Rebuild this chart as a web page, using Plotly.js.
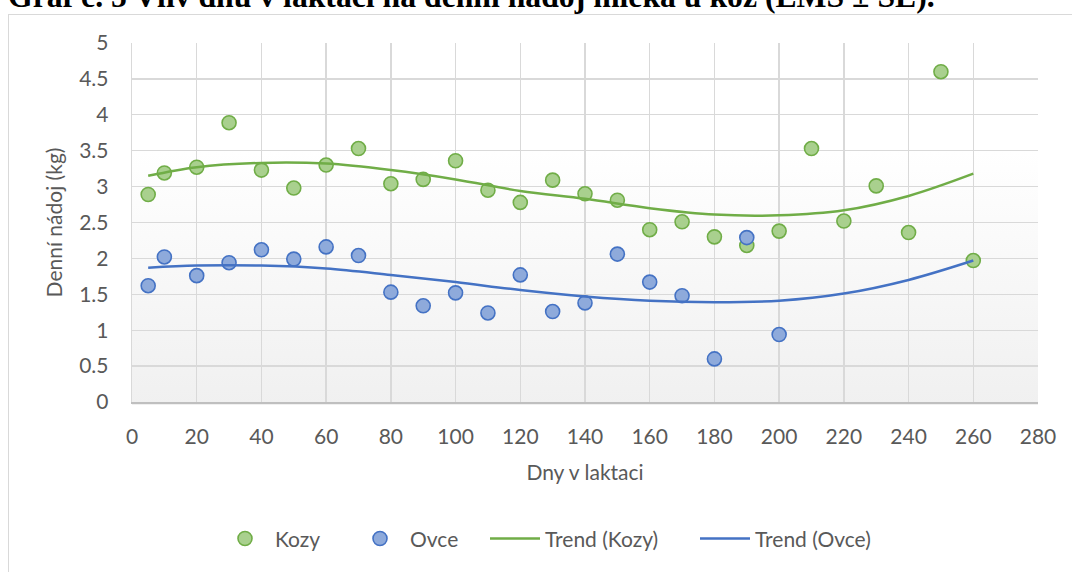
<!DOCTYPE html>
<html>
<head>
<meta charset="utf-8">
<script src="https://cdn.plot.ly/plotly-3.0.1.min.js"></script>
<style>
  html, body { margin:0; padding:0; background:#ffffff; overflow:hidden; }
  #wrap { position:relative; width:1072px; height:572px; overflow:hidden; }
  #frame { position:absolute; left:8px; top:14px; width:1200px; height:700px; border:1px solid #d9d9d9; box-sizing:border-box; }
  #bg { position:absolute; left:132px; top:43px; width:906px; height:362px;
        background:linear-gradient(to bottom, #ffffff 0%, #ffffff 30%, #f0f0f0 100%); }
  #doc-title { position:absolute; left:8px; top:-14px; white-space:nowrap; line-height:1;
        font-family:"Liberation Serif","Times New Roman",serif; font-weight:bold; font-size:28px; color:#000; }
  #chart { position:absolute; left:0; top:0; width:1072px; height:572px; }
</style>
</head>
<body>
<div id="wrap">
  <div id="frame"></div>
  <div id="bg"></div>
  <div id="doc-title"><span id="tt">Graf č. 5 Vliv dnů v laktaci na denní nádoj mléka u koz (EMS ± SE).</span></div>
  <div id="chart"></div>
</div>
<script>
// ---- data ----
const daysKozy = [5,10,20,30,40,50,60,70,80,90,100,110,120,130,140,150,160,170,180,190,200,210,220,230,240,250,260];
const kozy     = [2.89,3.19,3.27,3.89,3.23,2.98,3.30,3.53,3.04,3.10,3.36,2.95,2.78,3.09,2.90,2.81,2.40,2.51,2.30,2.18,2.38,3.53,2.52,3.01,2.36,4.60,1.97];
const daysOvce = [5,10,20,30,40,50,60,70,80,90,100,110,120,130,140,150,160,170,180,190,200];
const ovce     = [1.62,2.02,1.76,1.94,2.12,1.99,2.16,2.04,1.53,1.34,1.52,1.24,1.77,1.26,1.38,2.06,1.67,1.48,0.60,2.29,0.94];
const trendDays  = [5,20,40,60,80,100,120,140,160,180,200,220,240,260];
const trendKozy  = [3.15,3.27,3.33,3.32,3.23,3.10,2.94,2.83,2.70,2.61,2.60,2.67,2.87,3.18];
const trendOvce  = [1.87,1.90,1.90,1.86,1.77,1.67,1.56,1.47,1.41,1.39,1.41,1.51,1.70,1.97];
const xTitle = "Dny v laktaci";
const yTitle = "Denní nádoj (kg)";
const names = ["Kozy","Ovce","Trend (Kozy)","Trend (Ovce)"];

// fit document title width
(function(){
  const sp = document.getElementById('tt');
  const target = 927;
  const w = sp.getBoundingClientRect().width;
  const fs = 28 * target / w;
  const d = document.getElementById('doc-title');
  d.style.fontSize = fs + 'px';
  d.style.top = (8 - 0.8375*fs) + 'px';
})();

const FONT = "Lato, 'Liberation Sans', sans-serif";
const GREEN = "#70ad47", BLUE = "#4472c4";

const traces = [
  { x: daysKozy, y: kozy, name: names[0], type:'scatter', mode:'markers',
    marker:{ size:14, color:'#a9d08e', line:{ color:GREEN, width:1.6 } }, legend:'legend' },
  { x: daysOvce, y: ovce, name: names[1], type:'scatter', mode:'markers',
    marker:{ size:14, color:'#8eaadb', line:{ color:BLUE, width:1.6 } }, legend:'legend' },
  { x: trendDays, y: trendKozy, name: names[2], type:'scatter', mode:'lines',
    line:{ color:GREEN, width:2.5, shape:'spline', smoothing:1 }, legend:'legend2' },
  { x: trendDays, y: trendOvce, name: names[3], type:'scatter', mode:'lines',
    line:{ color:BLUE, width:2.5, shape:'spline', smoothing:1 }, legend:'legend2' }
];

const pw = 906, ph = 362;
function px2x(p){ return (p - 132) / pw; }
function py2y(p){ return (405 - p) / ph; }

const layout = {
  width:1072, height:572,
  margin:{ l:132, r:34, t:43, b:167 },
  paper_bgcolor:'rgba(0,0,0,0)', plot_bgcolor:'rgba(0,0,0,0)',
  font:{ family:FONT, size:21, color:'#595959' },
  showlegend:true,
  xaxis:{
    range:[0,280], dtick:20, tick0:0, showgrid:true, gridcolor:'#d9d9d9', gridwidth:1.3,
    zeroline:false, showline:true, linecolor:'#bfbfbf', linewidth:1.5, mirror:false,
    ticks:'', ticklabelstandoff:15, tickfont:{ family:FONT, size:21, color:'#595959' },
    title:{ text:xTitle, font:{ family:FONT, size:21, color:'#595959' }, standoff:18 },
    fixedrange:true
  },
  yaxis:{
    range:[0,5], dtick:0.5, tick0:0, showgrid:true, gridcolor:'#d9d9d9', gridwidth:1.3,
    zeroline:false, showline:true, linecolor:'#d9d9d9', linewidth:1.3,
    ticks:'', ticklabelstandoff:18, tickfont:{ family:FONT, size:21, color:'#595959' },
    title:{ text:yTitle, font:{ family:FONT, size:21, color:'#595959' }, standoff:10 },
    fixedrange:true
  },
  legend:{
    orientation:'h', x:px2x(215), xanchor:'left', y:py2y(543), yanchor:'middle',
    itemwidth:50, entrywidth:70, entrywidthmode:'pixels', bgcolor:'rgba(0,0,0,0)', borderwidth:0,
    font:{ family:FONT, size:21, color:'#595959' }, itemclick:false, itemdoubleclick:false
  },
  legend2:{
    orientation:'h', x:px2x(485), xanchor:'left', y:py2y(543), yanchor:'middle',
    itemwidth:50, entrywidth:145, entrywidthmode:'pixels', bgcolor:'rgba(0,0,0,0)', borderwidth:0,
    font:{ family:FONT, size:21, color:'#595959' }, itemclick:false, itemdoubleclick:false
  }
};

Plotly.newPlot('chart', traces, layout, { displayModeBar:false, staticPlot:true });
</script>
</body>
</html>
